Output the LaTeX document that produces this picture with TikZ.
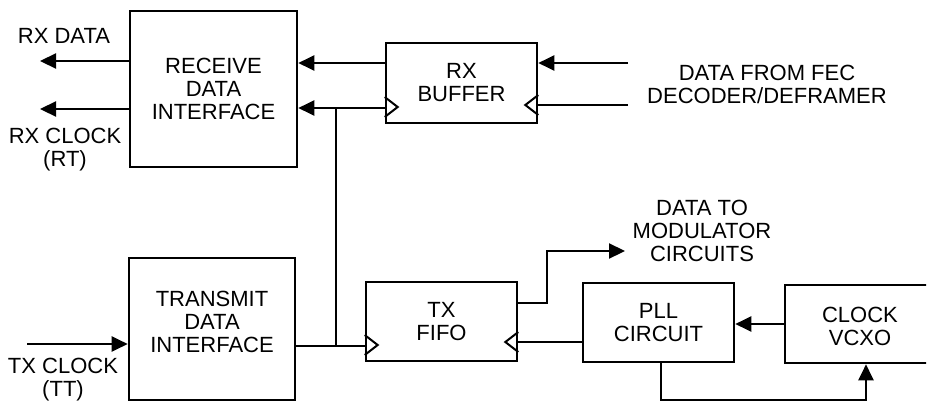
\documentclass[tikz,border=0pt]{standalone}
\usepackage{fontspec}
\setmainfont{Liberation Sans}
\usetikzlibrary{arrows.meta, positioning, calc}
\tikzset{
  every picture/.style={line width=1.1pt},
  blk/.style={draw, line width=1.3pt, align=center, inner sep=0pt, font=\fontsize{11}{11.5}\selectfont},
  sig/.style={font=\fontsize{11}{11.5}\selectfont, align=center, inner sep=0pt},
  arr/.style={-{Triangle[length=8pt, width=7.5pt]}},
  clk/.style={line width=1pt, line join=miter},
}

\begin{document}
\begin{tikzpicture}[x=0.5pt, y=-0.5pt]
  \useasboundingbox (0,0) rectangle (931,402);
  \clip (0,0) rectangle (926,402);
  % receive side
  \node[blk, minimum width=83.5pt, minimum height=78pt] (rdi) at (213.5,89) {RECEIVE\\DATA\\INTERFACE};
  \node[blk, minimum width=75.5pt, minimum height=40pt] (rxb) at (461.5,83) {RX\\BUFFER};
  % transmit side
  \node[blk, minimum width=83pt, minimum height=71pt] (tdi) at (212,329) {};
  \node[sig] (tdil) at (212,322) {TRANSMIT\\DATA\\INTERFACE};
  \node[blk, minimum width=75.5pt, minimum height=39.5pt] (tfifo) at (441.5,321.5) {TX\\FIFO};
  \node[blk, minimum width=75.5pt, minimum height=39.5pt] (pll) at (658.5,322.5) {PLL\\CIRCUIT};
  % clock box runs off the right edge
  \node[blk, minimum width=79pt, minimum height=39pt] (vcxo) at (864,324) {};
  \node[sig] (vcxol) at (860,326) {CLOCK\\VCXO};
  % clock inputs
  \draw[clk] (rxb.west |- 0,97) -- ++(13,10) -- ++(-13,10);
  \draw[clk] (rxb.east |- 0,95) -- ++(-13,10) -- ++(13,10);
  \draw[clk] (tfifo.west |- 0,335) -- ++(13,10) -- ++(-13,10);
  \draw[clk] (tfifo.east |- 0,332) -- ++(-13,10) -- ++(13,10);
  % signal labels
  \node[sig] (rxd) at (64,36) {RX DATA};
  \node[sig] (rxc) at (65,150) {RX CLOCK\\(RT)};
  \node[sig] (txc) at (63,380) {TX CLOCK\\(TT)};
  \node[sig] (fec) at (767,84) {DATA FROM FEC\\DECODER/DEFRAMER};
  \node[sig] (mod) at (702,231) {DATA TO\\MODULATOR\\CIRCUITS};
  % free ends
  \coordinate (rxdout) at (40,61);
  \coordinate (rxcout) at (40,109);
  \coordinate (txcin) at (27,344);
  \coordinate (fecd) at (628,63);
  \coordinate (fecc) at (628,105);
  \coordinate (modout) at (625,251);
  \coordinate (j) at (336,108);
  % connectors
  \draw[arr] (rdi.west |- rxdout) -- (rxdout);
  \draw[arr] (rdi.west |- rxcout) -- (rxcout);
  \draw[arr] (rxb.west |- fecd) -- (rdi.east |- fecd);
  \draw[arr] (rxb.west |- j) -- (rdi.east |- j);
  \draw (j) -- (j |- 0,346);
  \draw (tdi.east |- 0,346) -- (tfifo.west |- 0,346);
  \draw[arr] (txcin) -- (tdi.west |- txcin);
  \draw[arr] (fecd) -- (rxb.east |- fecd);
  \draw (fecc) -- (rxb.east |- fecc);
  \draw[arr] (tfifo.east |- 0,303) -| (547,251) -- (modout);
  \draw (pll.west |- 0,342) -- (tfifo.east |- 0,342);
  \draw[arr] (vcxo.west |- 0,324) -- (pll.east |- 0,324);
  \draw[arr] (pll.south -| 661,0) -- (661,400) -| (vcxo.south -| 866,0);
\end{tikzpicture}
\end{document}
